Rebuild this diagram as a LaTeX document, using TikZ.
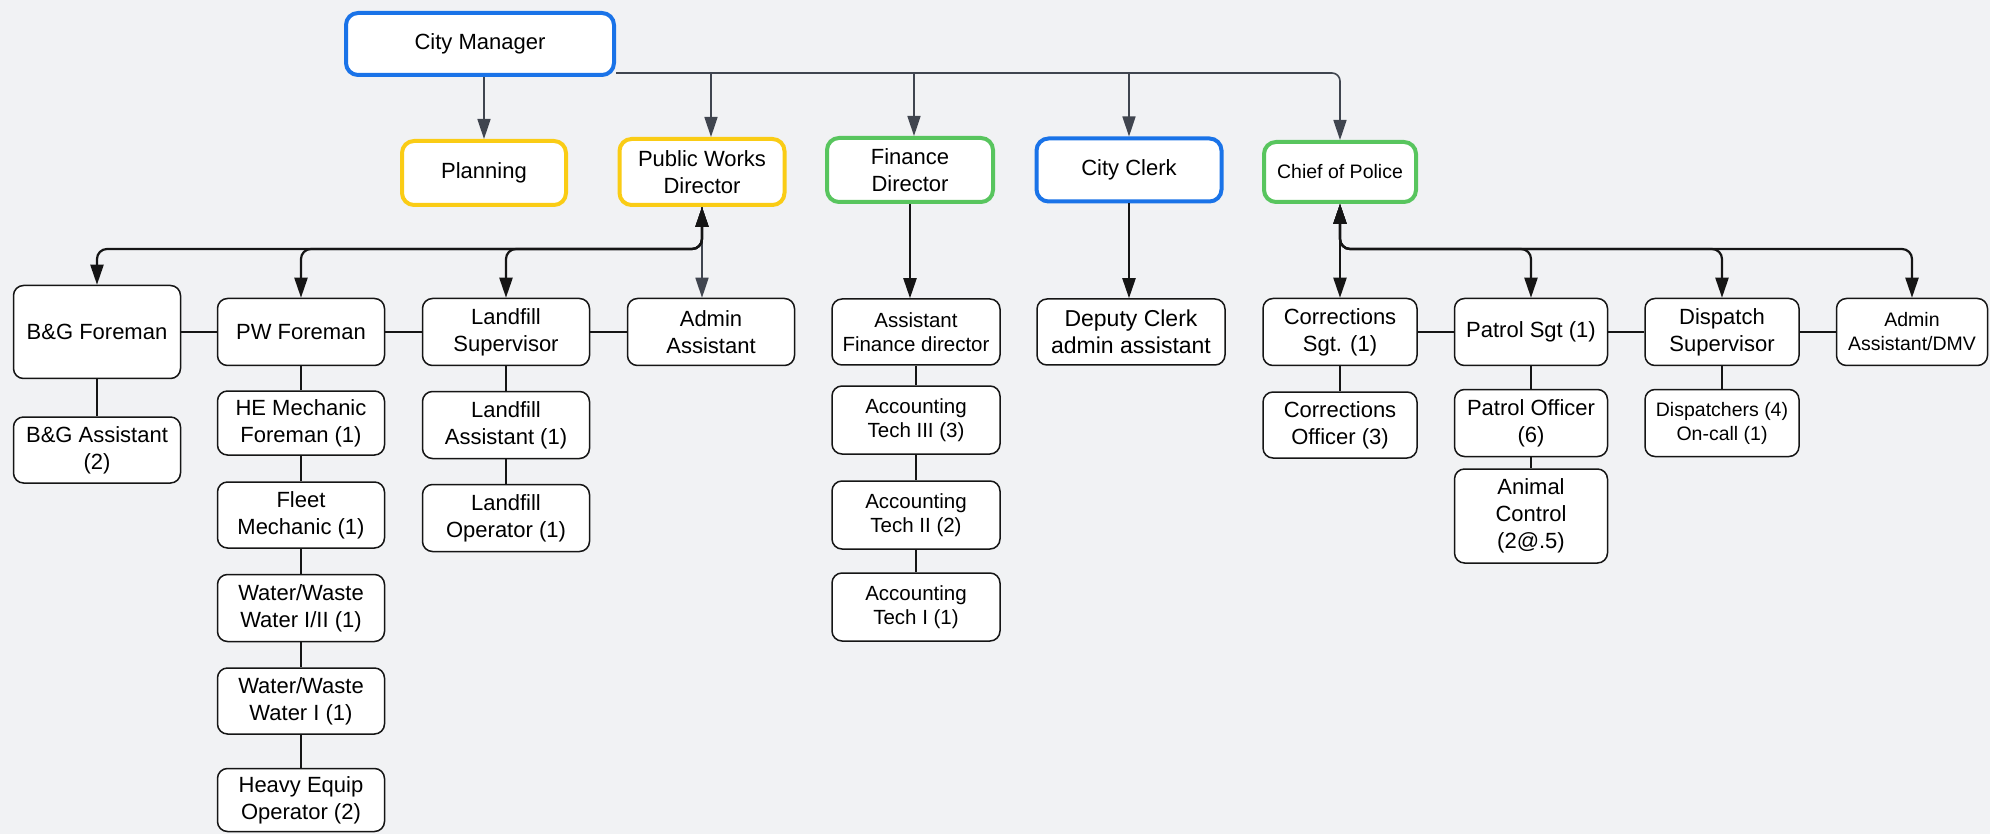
\documentclass[tikz,border=0pt]{standalone}
\usepackage{fontspec}
\setmainfont{Liberation Sans}
\usetikzlibrary{arrows.meta}
\definecolor{bg}{HTML}{F1F2F4}
\definecolor{cblue}{HTML}{1A73E8}
\definecolor{cyellow}{HTML}{FACC15}
\definecolor{cgreen}{HTML}{58C55E}
\definecolor{cgray}{HTML}{40454F}
\definecolor{cblack}{HTML}{151515}
\tikzset{
  base/.style={rectangle, fill=white, align=center, inner sep=0pt, font=\fontsize{22}{27}\selectfont},
  plain/.style={base, draw=cblack, line width=1.5pt, rounded corners=10pt},
  bluebox/.style={base, draw=cblue, line width=4pt, rounded corners=12pt},
  yellowbox/.style={base, draw=cyellow, line width=4pt, rounded corners=12pt},
  greenbox/.style={base, draw=cgreen, line width=4pt, rounded corners=12pt},
  small/.style={font=\fontsize{19.5}{24}\selectfont},
  finsmall/.style={font=\fontsize{20.5}{24}\selectfont},
  dim/.style 2 args={minimum width=#1, minimum height=#2},
  grayarrow/.style={draw=cgray, line width=1.6pt, -{Triangle[length=20pt,width=13pt]}},
  blackarrow/.style={draw=cblack, line width=2.2pt, -{Triangle[length=20pt,width=13pt]}},
  dblarrow/.style={draw=cblack, line width=2.2pt, {Triangle[length=20pt,width=13pt]}-{Triangle[length=20pt,width=13pt]}, rounded corners=10pt},
  tree/.style={draw=cblack, line width=1.5pt}
}
\begin{document}
\begin{tikzpicture}[x=1pt, y=-1pt]
\useasboundingbox (0,0) rectangle (1990,834);
\fill[bg] (0,0) rectangle (1990,834);

% top level
\node[bluebox, dim={268pt}{62pt}] (cm) at (480,44) {City Manager};
\node[yellowbox, dim={164pt}{64pt}] (plan) at (484,173) {Planning};
\node[yellowbox, dim={165pt}{66pt}] (pwd) at (702,172) {Public Works\\Director};
\node[greenbox, dim={166pt}{64pt}] (fin) at (910,170) {Finance\\Director};
\node[bluebox, dim={185pt}{63pt}] (clerk) at (1129,170) {City Clerk};
\node[greenbox, small, dim={152pt}{60pt}] (chief) at (1340,172) {Chief of Police};

% public works
\node[plain, dim={167pt}{93pt}] (bgf) at (97,332) {B\&G Foreman};
\node[plain, dim={167pt}{67pt}] (pwf) at (301,332) {PW Foreman};
\node[plain, dim={167pt}{67pt}] (lfs) at (506,332) {Landfill\\Supervisor};
\node[plain, dim={167pt}{67pt}] (adm) at (711,332) {Admin\\Assistant};
\node[plain, dim={167pt}{66pt}] (bga) at (97,450) {B\&G Assistant\\(2)};
\node[plain, dim={167pt}{64pt}] (hem) at (301,423) {HE Mechanic\\Foreman (1)};
\node[plain, dim={167pt}{66pt}] (flm) at (301,515) {Fleet\\Mechanic (1)};
\node[plain, dim={167pt}{67pt}] (ww12) at (301,608) {Water/Waste\\Water I/II (1)};
\node[plain, dim={167pt}{66pt}] (ww1) at (301,701) {Water/Waste\\Water I (1)};
\node[plain, dim={167pt}{63pt}] (heo) at (301,800) {Heavy Equip\\Operator (2)};
\node[plain, dim={167pt}{67pt}] (lfa) at (506,425) {Landfill\\Assistant (1)};
\node[plain, dim={167pt}{67pt}] (lfo) at (506,518) {Landfill\\Operator (1)};

% finance
\node[plain, finsmall, dim={168pt}{66pt}] (afd) at (916,332) {Assistant\\Finance director};
\node[plain, finsmall, dim={168pt}{68pt}] (at3) at (916,420) {Accounting\\Tech III (3)};
\node[plain, finsmall, dim={168pt}{68pt}] (at2) at (916,515) {Accounting\\Tech II (2)};
\node[plain, finsmall, dim={168pt}{68pt}] (at1) at (916,607) {Accounting\\Tech I (1)};

% clerk
\node[plain, dim={188pt}{66pt}, font=\fontsize{23}{27}\selectfont] (dc) at (1131,332) {Deputy Clerk\\admin assistant};

% police
\node[plain, dim={154pt}{67pt}] (cs) at (1340,332) {Corrections\\Sgt. (1)};
\node[plain, dim={153pt}{67pt}] (ps) at (1531,332) {Patrol Sgt (1)};
\node[plain, dim={154pt}{67pt}] (ds) at (1722,332) {Dispatch\\Supervisor};
\node[plain, small, dim={151pt}{67pt}] (aad) at (1912,332) {Admin\\Assistant/DMV};
\node[plain, dim={154pt}{66pt}] (co) at (1340,425) {Corrections\\Officer (3)};
\node[plain, dim={153pt}{67pt}] (po) at (1531,423) {Patrol Officer\\(6)};
\node[plain, dim={153pt}{94pt}] (ac) at (1531,516) {Animal\\Control\\(2@.5)};
\node[plain, small, dim={154pt}{67pt}] (dsp) at (1722,423) {Dispatchers (4)\\On-call (1)};

% bus coordinates
\coordinate (topbus) at (0,73);
\coordinate (pwbus) at (0,249);
\coordinate (pobus) at (0,249);

% top connectors
\draw[grayarrow, rounded corners=8pt] (cm.south east |- topbus) -- (chief.north |- topbus) -- (chief.north);
\draw[grayarrow] (cm.south -| plan.north) -- (plan.north);
\draw[grayarrow] ([xshift=9pt]pwd.north |- topbus) -- ([xshift=9pt]pwd.north);
\draw[grayarrow] ([xshift=4pt]fin.north |- topbus) -- ([xshift=4pt]fin.north);
\draw[grayarrow] (clerk.north |- topbus) -- (clerk.north);

% public works tree
\draw[grayarrow] (pwd.south) -- (pwd.south |- adm.north);
\draw[dblarrow] (pwd.south) -- (pwd.south |- pwbus) -| (bgf.north);
\draw[dblarrow] (pwd.south) -- (pwd.south |- pwbus) -| (pwf.north);
\draw[dblarrow] (pwd.south) -- (pwd.south |- pwbus) -| (lfs.north);

% finance and clerk
\draw[blackarrow] (fin.south) -- (fin.south |- afd.north);
\draw[blackarrow] (clerk.south) -- (clerk.south |- dc.north);

% police tree
\draw[dblarrow] (chief.south) -- (cs.north);
\draw[dblarrow] (chief.south) -- (chief.south |- pobus) -| (ps.north);
\draw[dblarrow] (chief.south) -- (chief.south |- pobus) -| (ds.north);
\draw[dblarrow] (chief.south) -- (chief.south |- pobus) -| (aad.north);

% plain tree lines
\draw[tree] (bgf) -- (pwf);
\draw[tree] (pwf) -- (lfs);
\draw[tree] (lfs) -- (adm);
\draw[tree] (bgf) -- (bga);
\draw[tree] (pwf) -- (hem);
\draw[tree] (hem) -- (flm);
\draw[tree] (flm) -- (ww12);
\draw[tree] (ww12) -- (ww1);
\draw[tree] (ww1) -- (heo);
\draw[tree] (lfs) -- (lfa);
\draw[tree] (lfa) -- (lfo);
\draw[tree] (afd) -- (at3);
\draw[tree] (at3) -- (at2);
\draw[tree] (at2) -- (at1);
\draw[tree] (cs) -- (ps);
\draw[tree] (ps) -- (ds);
\draw[tree] (ds) -- (aad);
\draw[tree] (cs) -- (co);
\draw[tree] (ps) -- (po);
\draw[tree] (po) -- (ac);
\draw[tree] (ds) -- (dsp);
\end{tikzpicture}
\end{document}
